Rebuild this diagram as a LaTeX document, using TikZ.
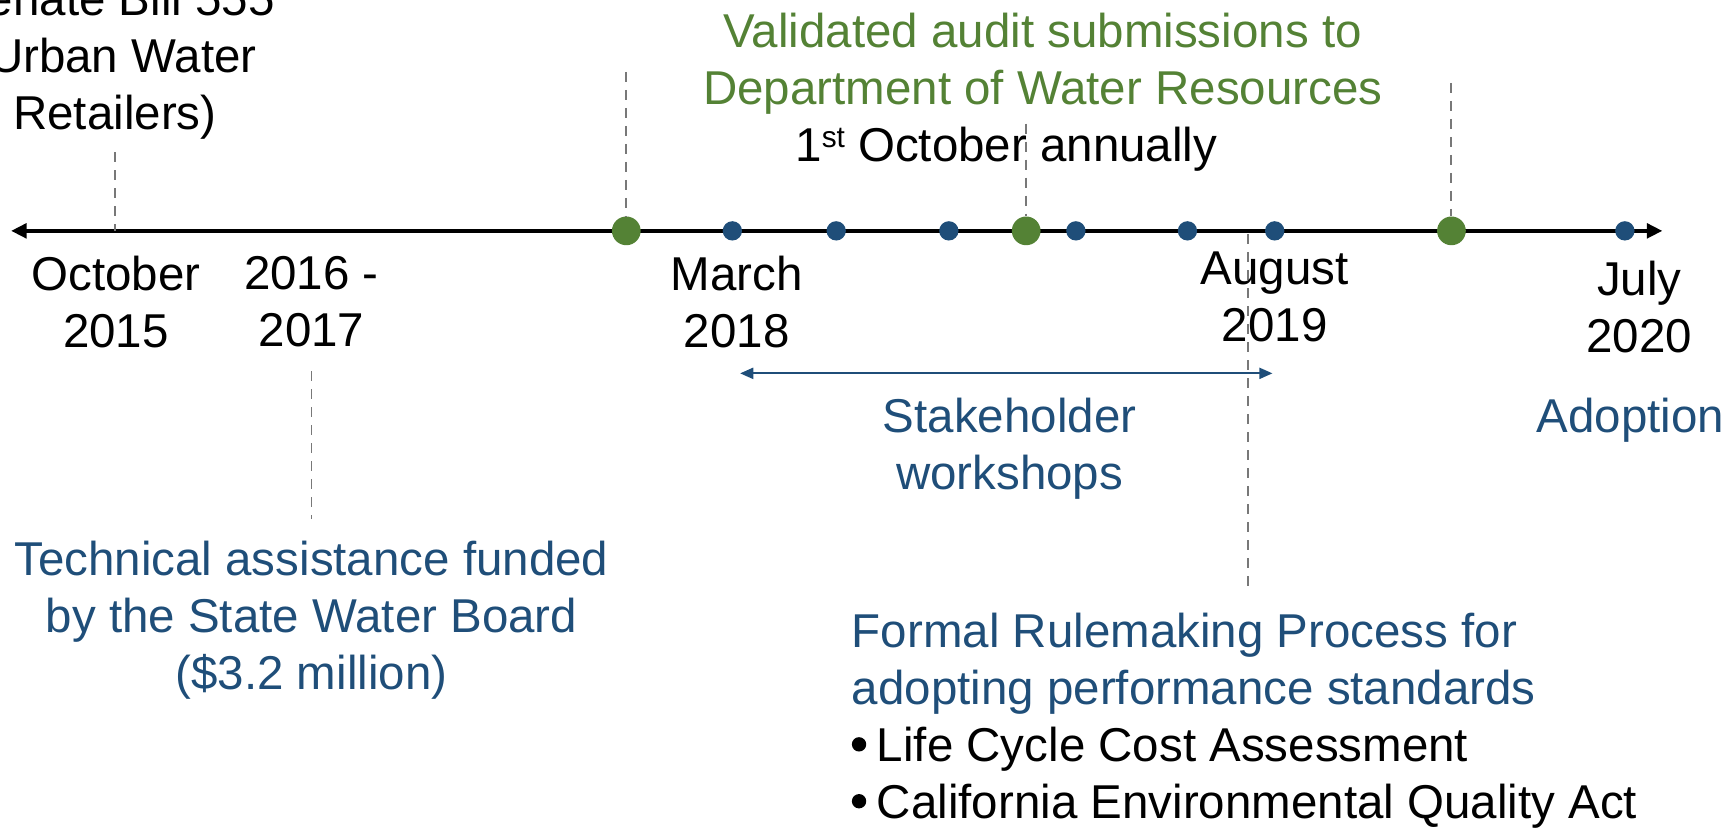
\documentclass[tikz,border=0pt]{standalone}
\usepackage{fontspec}
\setmainfont{Liberation Sans}
\usetikzlibrary{arrows.meta}
\definecolor{tblue}{HTML}{1F4E79}
\definecolor{tgreen}{HTML}{548235}
\definecolor{dgray}{HTML}{787878}
\newcommand{\bigbul}{\makebox[22.7pt][l]{\raisebox{9pt}{\tikz\fill[black] (0,0) circle (6.5pt);}}}
\tikzset{
  lbl/.style={font=\fontsize{43}{51.5}\selectfont, inner sep=0pt, align=center, anchor=north},
  bluedot/.style={circle, fill=tblue, inner sep=0pt, minimum size=17.5pt},
  greendot/.style={circle, fill=tgreen, inner sep=0pt, minimum size=26pt},
  guide/.style={draw=dgray, line width=1.8pt, dash pattern=on 9pt off 7.3pt},
  axis/.style={line width=3.6pt, {Triangle[length=14pt,width=13pt]}-{Triangle[length=14pt,width=13pt]}},
  spanarrow/.style={draw=tblue, line width=2pt, {Triangle[length=12pt,width=10pt]}-{Triangle[length=12pt,width=10pt]}}
}
\begin{document}
\begin{tikzpicture}[x=1pt,y=-1pt]
\useasboundingbox (0,0) rectangle (1568,749);
\clip (0,0) rectangle (1568,749);

% timeline
\coordinate (tl) at (10,209);
\coordinate (tr) at (1505,209);
\draw[axis] (tl) -- (tr);

% guide coordinates
\coordinate (octtop) at (104,138);
\coordinate (octax) at (104,209);
\coordinate (g1top) at (567,65);
\coordinate (g2top) at (929,112);
\coordinate (g3top) at (1314,75);
\coordinate (tatop) at (282,336);
\coordinate (tabot) at (282,470);
\coordinate (frtop) at (1130,212);
\coordinate (frbot) at (1130,535);

% dots
\node[greendot] (g1) at (567,209) {};
\node[greendot] (g2) at (929,209) {};
\node[greendot] (g3) at (1314,209) {};
\node[bluedot] (b1) at (663,209) {};
\node[bluedot] (b2) at (757,209) {};
\node[bluedot] (b3) at (859,209) {};
\node[bluedot] (b4) at (974,209) {};
\node[bluedot] (b5) at (1075,209) {};
\node[bluedot] (b6) at (1154,209) {};
\node[bluedot] (b7) at (1471,209) {};

% dashed guides
\draw[guide] (octtop) -- (octax);
\draw[guide] (g1top) -- (g1);
\draw[guide] (g2top) -- (g2);
\draw[guide] (g3top) -- (g3);
\draw[guide] (tatop) -- (tabot);
\draw[guide] (frtop) -- (frbot);

% labels
\node[lbl] (sb) at (104,-17) {Senate Bill 555\\(Urban Water\\Retailers)};
\node[lbl] (oct) at (105,232) {October\\2015};
\node[lbl] (y1617) at (282,232) {2016 -\\2017};
\node[lbl, text=tblue] (ta) at (282,490) {Technical assistance funded\\by the State Water Board\\(\$3.2 million)};
\node[lbl, text=tgreen] (val) at (944,12) {Validated audit submissions to\\Department of Water Resources};
\node[lbl] (oct1) at (911,115) {1\raisebox{13pt}{\fontsize{27}{27}\selectfont st} October annually};
\node[lbl] (mar) at (667,232) {March\\2018};
\node[lbl] (aug) at (1154,228) {August\\2019};
\node[lbl] (jul) at (1484,236) {July\\2020};
\node[lbl, text=tblue] (stake) at (914,360) {Stakeholder\\workshops};
\node[lbl, text=tblue] (adopt) at (1476,360) {Adoption};
\node[lbl, anchor=north west, align=left, text=tblue] (formal) at (771,555)
  {Formal Rulemaking Process for\\adopting performance standards\\\textcolor{black}{\bigbul Life Cycle Cost Assessment}\\\textcolor{black}{\bigbul California Environmental Quality Act}};

% stakeholder span
\coordinate (sl) at (670,338);
\coordinate (sr) at (1152,338);
\draw[spanarrow] (sl) -- (sr);
\end{tikzpicture}
\end{document}
